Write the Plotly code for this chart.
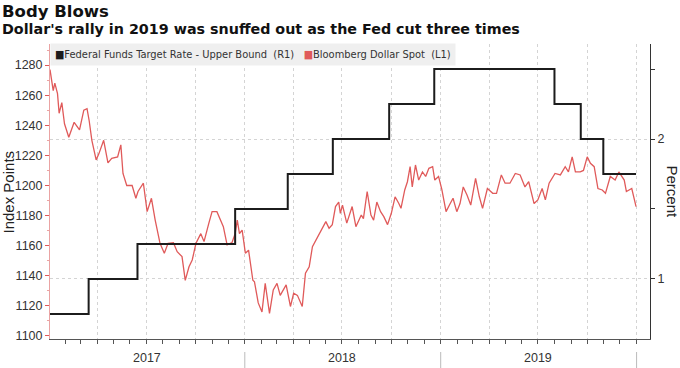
import plotly.graph_objects as go

# ---- data ----
dollar_dates = [
    "2017-01-03", "2017-01-09", "2017-01-12", "2017-01-17", "2017-01-20", "2017-01-25", "2017-01-30",
    "2017-02-07", "2017-02-17", "2017-02-27", "2017-03-07", "2017-03-13", "2017-03-17", "2017-03-22",
    "2017-03-30", "2017-04-04", "2017-04-13", "2017-04-21", "2017-04-28", "2017-05-09", "2017-05-15",
    "2017-05-19", "2017-05-26", "2017-06-05", "2017-06-12", "2017-06-16", "2017-06-26", "2017-07-03",
    "2017-07-11", "2017-07-18", "2017-07-27", "2017-08-04", "2017-08-11", "2017-08-21", "2017-08-28",
    "2017-09-06", "2017-09-12", "2017-09-19", "2017-09-25", "2017-10-02", "2017-10-11", "2017-10-17",
    "2017-10-26", "2017-11-01", "2017-11-10", "2017-11-16", "2017-11-22", "2017-11-29", "2017-12-08",
    "2017-12-14", "2017-12-18", "2017-12-22", "2017-12-27",
    "2018-01-02", "2018-01-08", "2018-01-16", "2018-01-19", "2018-01-26", "2018-02-02", "2018-02-08",
    "2018-02-16", "2018-02-23", "2018-03-02", "2018-03-08", "2018-03-14", "2018-03-19", "2018-03-27",
    "2018-04-02", "2018-04-09", "2018-04-18", "2018-04-24", "2018-05-01", "2018-05-07", "2018-05-14",
    "2018-05-21", "2018-05-25", "2018-06-01", "2018-06-07", "2018-06-13", "2018-06-19", "2018-06-25",
    "2018-06-28", "2018-07-02", "2018-07-10", "2018-07-20", "2018-07-27", "2018-08-06", "2018-08-10",
    "2018-08-17", "2018-08-24", "2018-08-29", "2018-09-04", "2018-09-11", "2018-09-17", "2018-09-24",
    "2018-10-01", "2018-10-08", "2018-10-15", "2018-10-19", "2018-10-26", "2018-10-31", "2018-11-05",
    "2018-11-09", "2018-11-15", "2018-11-21", "2018-11-28", "2018-12-04", "2018-12-10", "2018-12-17",
    "2018-12-21", "2018-12-28",
    "2019-01-03", "2019-01-11", "2019-01-18", "2019-01-24", "2019-01-31", "2019-02-06", "2019-02-12",
    "2019-02-19", "2019-02-26", "2019-03-07", "2019-03-14", "2019-03-20", "2019-03-29", "2019-04-08",
    "2019-04-15", "2019-04-24", "2019-05-01", "2019-05-10", "2019-05-20", "2019-05-29", "2019-06-07",
    "2019-06-14", "2019-06-24", "2019-07-01", "2019-07-09", "2019-07-15", "2019-07-22", "2019-08-02",
    "2019-08-12", "2019-08-21", "2019-08-27", "2019-09-03", "2019-09-09", "2019-09-18", "2019-09-24",
    "2019-10-01", "2019-10-07", "2019-10-14", "2019-10-21", "2019-10-29", "2019-11-04", "2019-11-13",
    "2019-11-22", "2019-11-29", "2019-12-09", "2019-12-13", "2019-12-23", "2019-12-27", "2019-12-31",
]
dollar_values = [
    1277, 1263, 1268, 1261, 1248, 1255, 1241,
    1232, 1242, 1237, 1250, 1251, 1243, 1230,
    1217, 1221, 1230, 1215, 1218, 1219, 1227,
    1208, 1200, 1200, 1191.5, 1196, 1201.5, 1182.6,
    1191.5, 1177, 1161.6, 1155, 1161.6, 1162, 1156,
    1152.7, 1137, 1146, 1150.5, 1161.6, 1168, 1162.7,
    1175, 1182.6, 1182.6, 1177, 1172.6, 1160.5, 1162,
    1168, 1177, 1168, 1170.4,
    1155, 1157, 1137, 1136, 1122, 1116, 1135,
    1115, 1130.6, 1135, 1127, 1130.6, 1134, 1119.6,
    1128.4, 1127, 1119.6, 1141.7, 1146, 1159.4, 1164,
    1168, 1171.6, 1176, 1171.6, 1174, 1186, 1189,
    1181.5, 1187, 1175, 1186, 1172.6, 1180.4, 1178,
    1196, 1180.4, 1177, 1189, 1182.6, 1179.3, 1174,
    1181.5, 1192.5, 1188, 1184.8, 1197, 1202.5, 1212.5,
    1199, 1213.6, 1203.6, 1209, 1206, 1211.4, 1212.5,
    1203.6, 1206,
    1197.5, 1182.6, 1187.5, 1191.5, 1182.6, 1188, 1199,
    1193.7, 1187, 1204.8, 1192.5, 1184.8, 1198, 1194.8,
    1194.8, 1207, 1201.5, 1201.5, 1208, 1207, 1199,
    1202.5, 1188, 1190.4, 1198, 1190.4, 1201.5, 1208,
    1207, 1212.5, 1209, 1219, 1209, 1209, 1210,
    1219, 1214.7, 1212.5, 1198, 1197, 1194.8, 1206,
    1203.6, 1209, 1203.6, 1196, 1198, 1191.5, 1186,
]

fed_dates = ["2017-01-03", "2017-03-16", "2017-06-15", "2017-12-14", "2018-03-22", "2018-06-14",
             "2018-09-27", "2018-12-20", "2019-08-01", "2019-09-19", "2019-10-31", "2019-12-31"]
fed_rates = [0.75, 1.0, 1.25, 1.5, 1.75, 2.0, 2.25, 2.5, 2.25, 2.0, 1.75, 1.75]

years = [2017, 2018, 2019]
left_ticks = [1100, 1120, 1140, 1160, 1180, 1200, 1220, 1240, 1260, 1280]
right_ticks = [1, 2]

fed_name = "Federal Funds Target Rate - Upper Bound  (R1)"
dollar_name = "Bloomberg Dollar Spot  (L1)"
title = "Body Blows"
subtitle = "Dollar's rally in 2019 was snuffed out as the Fed cut three times"

RED = "#e05a5a"
BLACK = "#1c1c1c"
GRID = "#d4d4d4"
TXT = "#333333"
AXFONT = "Liberation Sans, Arial, sans-serif"

fig = go.Figure()
fig.add_trace(go.Scatter(x=dollar_dates, y=dollar_values, mode="lines", name=dollar_name,
                         line=dict(color=RED, width=1.3), yaxis="y", showlegend=False))
fig.add_trace(go.Scatter(x=fed_dates, y=fed_rates, mode="lines", name=fed_name,
                         line=dict(color=BLACK, width=2, shape="hv"), yaxis="y2", showlegend=False))

quarters = [f"{y}-{m:02d}-01" for y in years + [2020] for m in (1, 4, 7, 10)]

fig.update_layout(
    width=680, height=368,
    margin=dict(l=50, r=30, t=44, b=29),
    paper_bgcolor="white", plot_bgcolor="white",
    font=dict(family="DejaVu Sans, Liberation Sans, sans-serif", size=12, color=TXT),
    xaxis=dict(
        type="date", range=["2017-01-03", "2020-01-26"],
        tickvals=quarters, showticklabels=False,
        ticks="outside", ticklen=4, tickcolor="#555555", tickwidth=1,
        showgrid=True, gridcolor=GRID, griddash="dot", gridwidth=1,
        minor=dict(dtick="M1", tick0="2017-01-01", ticks="outside", ticklen=4,
                   tickcolor="#555555", showgrid=False),
        showline=True, linecolor="#555555", linewidth=1, zeroline=False,
    ),
    yaxis=dict(
        range=[1098, 1294], tickvals=left_ticks, ticks="outside", ticklen=4,
        tickcolor=RED, showline=True, linecolor="#eaa3a3", linewidth=1,
        showgrid=False, zeroline=False,
        minor=dict(dtick=10, tick0=1100, ticks="outside", ticklen=2, tickcolor="#eaa3a3"),
        tickfont=dict(size=12.5, family=AXFONT, color=TXT),
    ),
    yaxis2=dict(
        overlaying="y", side="right", range=[0.571, 2.679], tickvals=right_ticks,
        ticks="outside", ticklen=4, tickcolor="#333333", showline=True,
        linecolor="#333333", linewidth=1, showgrid=True, gridcolor=GRID, griddash="dot",
        zeroline=False,
        minor=dict(dtick=0.5, tick0=0, ticks="outside", ticklen=4, tickcolor="#333333"),
        tickfont=dict(size=12.5, family=AXFONT, color=TXT),
    ),
)

ann = []
ann.append(dict(text=f"<b>{title}</b>", x=-50 / 600, xref="paper", xanchor="left",
                y=(339 - 12) / 295, yref="paper", yanchor="middle", showarrow=False,
                font=dict(size=16.5, family="DejaVu Sans, sans-serif", color="#111111")))
ann.append(dict(text=f"<b>{subtitle}</b>", x=-50 / 600, xref="paper", xanchor="left",
                y=(339 - 29) / 295, yref="paper", yanchor="middle", showarrow=False,
                font=dict(size=14.3, family="DejaVu Sans, sans-serif", color="#111111")))
legend_txt = (f"<span style='color:{BLACK}'>■</span>{fed_name}   "
              f"<span style='color:{RED}'>■</span>{dollar_name}")
ann.append(dict(text=legend_txt, x=0.0, xref="paper", xanchor="left",
                y=(339 - 55) / 295, yref="paper", yanchor="middle", showarrow=False,
                bgcolor="#efefef", borderpad=4,
                font=dict(size=11, family="DejaVu Sans Condensed, Liberation Sans Narrow, Liberation Sans, sans-serif",
                          color=TXT)))
ann.append(dict(text="Index Points", textangle=-90, x=(8 - 50) / 600, xref="paper", xanchor="center",
                y=0.5, yref="paper", yanchor="middle", showarrow=False,
                font=dict(size=15, family=AXFONT, color="#222222")))
ann.append(dict(text="Percent", textangle=90, x=(672 - 50) / 600, xref="paper", xanchor="center",
                y=0.5, yref="paper", yanchor="middle", showarrow=False,
                font=dict(size=15, family=AXFONT, color="#222222")))
for y in years:
    ann.append(dict(text=str(y), x=f"{y}-07-02", xref="x", xanchor="center",
                    y=(339 - 358) / 295, yref="paper", yanchor="middle", showarrow=False,
                    font=dict(size=12.5, family=AXFONT, color=TXT)))
fig.update_layout(annotations=ann)

shapes = []
for y in years[1:] + [years[-1] + 1]:
    shapes.append(dict(type="line", xref="x", yref="paper", x0=f"{y}-01-01", x1=f"{y}-01-01",
                       y0=(339 - 352) / 295, y1=(339 - 368) / 295, line=dict(color="#bbbbbb", width=1)))
fig.update_layout(shapes=shapes)

fig.write_html("out.html", config={"displayModeBar": False},
               post_script="document.body.style.margin='0';")
